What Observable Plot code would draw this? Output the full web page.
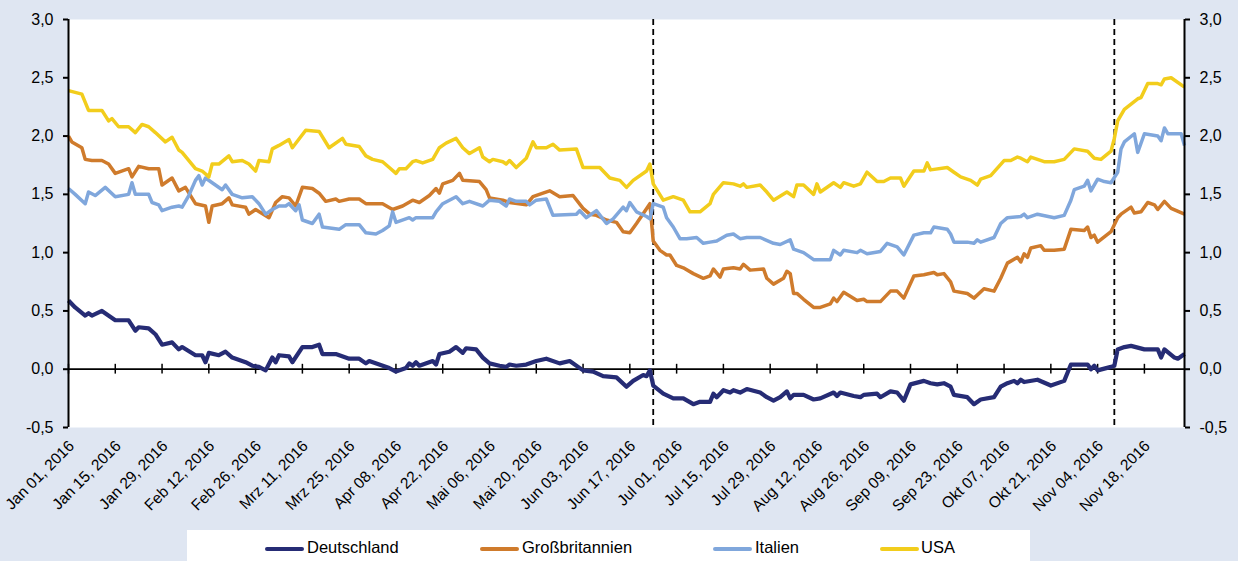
<!DOCTYPE html>
<html>
<head>
<meta charset="utf-8">
<script src="https://cdn.jsdelivr.net/npm/d3@7"></script>
<script src="https://cdn.jsdelivr.net/npm/@observablehq/plot@0.6"></script>
<style>
  html, body { margin: 0; padding: 0; background: #dfe6f2; width: 1238px; height: 561px; overflow: hidden; }
  body { font-family: "Liberation Sans", Arial, sans-serif; position: relative; }
  #chart { position: absolute; left: 0; top: 0; }
  #legend { position: absolute; left: 187px; top: 530px; width: 843px; height: 40px; background: #ffffff; }
  .sw { position: absolute; top: 17px; width: 39px; height: 4px; border-radius: 2px; }
  .lb { position: absolute; top: 8px; font-size: 16.5px; color: #000; white-space: nowrap; line-height: 19px; }
</style>
</head>
<body>
<div id="chart"></div>
<div id="legend"></div>
<script>
// ---- data (day offset from 2016-01-01, value in %) ----
const seriesNames = ["Deutschland", "Großbritannien", "Italien", "USA"];
const seriesColors = ["#262c75", "#cf7b2c", "#80a7dc", "#f2cd1c"];

const deutschland = [[0,0.59],[2,0.53],[5,0.46],[6,0.48],[7,0.46],[10,0.50],[14,0.42],[18,0.42],[20,0.33],[21,0.36],[24,0.35],[26,0.30],[28,0.21],[31,0.23],[33,0.17],[34,0.19],[38,0.12],[40,0.12],[41,0.06],[42,0.14],[45,0.12],[47,0.15],[49,0.10],[53,0.06],[55,0.03],[57,0.02],[59,-0.01],[61,0.10],[62,0.06],[63,0.12],[66,0.11],[67,0.06],[70,0.19],[73,0.19],[75,0.21],[76,0.13],[80,0.13],[84,0.09],[87,0.09],[89,0.05],[90,0.07],[93,0.04],[96,0.01],[98,-0.02],[101,0.01],[102,0.05],[103,0.03],[104,0.06],[105,0.03],[109,0.07],[110,0.04],[111,0.13],[114,0.15],[116,0.19],[118,0.14],[119,0.18],[122,0.17],[124,0.10],[126,0.05],[129,0.03],[131,0.02],[132,0.04],[134,0.03],[137,0.04],[140,0.07],[143,0.09],[147,0.05],[150,0.07],[154,-0.01],[157,-0.02],[160,-0.06],[164,-0.07],[167,-0.15],[169,-0.10],[172,-0.05],[173,-0.06],[174,-0.01],[175,-0.14],[178,-0.21],[181,-0.25],[184,-0.25],[187,-0.30],[189,-0.28],[192,-0.28],[193,-0.21],[194,-0.24],[196,-0.18],[198,-0.20],[199,-0.18],[201,-0.20],[203,-0.17],[207,-0.20],[209,-0.24],[211,-0.27],[213,-0.24],[215,-0.19],[216,-0.25],[217,-0.22],[220,-0.22],[223,-0.26],[225,-0.25],[229,-0.20],[230,-0.23],[231,-0.20],[235,-0.23],[237,-0.24],[238,-0.22],[242,-0.21],[243,-0.24],[246,-0.19],[248,-0.20],[250,-0.27],[252,-0.13],[256,-0.10],[258,-0.12],[260,-0.13],[262,-0.12],[264,-0.15],[265,-0.22],[269,-0.24],[271,-0.30],[273,-0.26],[277,-0.24],[279,-0.15],[281,-0.12],[283,-0.10],[284,-0.12],[285,-0.09],[286,-0.11],[290,-0.09],[294,-0.14],[298,-0.10],[300,0.04],[305,0.04],[306,0.00],[307,0.03],[308,-0.01],[312,0.02],[313,0.03],[314,0.17],[316,0.19],[318,0.20],[322,0.17],[326,0.17],[327,0.10],[328,0.17],[331,0.10],[332,0.09],[334,0.13]];

const grossbritannien = [[0,2.00],[1,1.95],[4,1.90],[5,1.80],[7,1.79],[10,1.79],[12,1.76],[14,1.68],[18,1.72],[19,1.65],[21,1.74],[24,1.72],[27,1.72],[28,1.58],[31,1.64],[33,1.53],[35,1.56],[38,1.42],[41,1.40],[42,1.26],[43,1.40],[46,1.42],[48,1.47],[49,1.41],[53,1.39],[54,1.33],[56,1.37],[60,1.30],[62,1.43],[64,1.48],[66,1.47],[68,1.40],[70,1.56],[73,1.55],[75,1.51],[77,1.44],[80,1.46],[81,1.44],[84,1.46],[87,1.46],[89,1.42],[94,1.42],[97,1.37],[100,1.40],[103,1.45],[105,1.43],[108,1.49],[110,1.55],[111,1.51],[112,1.59],[115,1.62],[117,1.68],[118,1.62],[123,1.61],[125,1.54],[126,1.47],[130,1.45],[132,1.43],[137,1.41],[139,1.48],[142,1.51],[144,1.53],[147,1.48],[151,1.49],[154,1.38],[156,1.33],[158,1.32],[161,1.28],[164,1.26],[166,1.18],[168,1.17],[170,1.25],[174,1.42],[175,1.10],[177,1.02],[179,0.98],[180,0.98],[182,0.89],[184,0.87],[187,0.82],[190,0.78],[192,0.80],[193,0.86],[195,0.79],[196,0.86],[199,0.87],[201,0.86],[202,0.90],[204,0.85],[208,0.86],[209,0.78],[211,0.73],[214,0.78],[215,0.84],[216,0.82],[217,0.65],[218,0.65],[220,0.60],[223,0.53],[225,0.53],[228,0.56],[229,0.61],[230,0.58],[232,0.66],[236,0.59],[238,0.60],[239,0.58],[243,0.58],[246,0.67],[248,0.67],[250,0.61],[253,0.80],[256,0.81],[259,0.83],[260,0.81],[262,0.82],[264,0.75],[265,0.67],[269,0.65],[271,0.61],[274,0.69],[277,0.67],[279,0.78],[281,0.91],[284,0.96],[285,0.92],[286,0.99],[287,0.96],[288,1.04],[291,1.06],[292,1.02],[295,1.02],[298,1.03],[300,1.20],[304,1.19],[305,1.22],[306,1.13],[307,1.15],[308,1.09],[312,1.18],[314,1.30],[315,1.33],[318,1.39],[319,1.34],[321,1.35],[323,1.43],[325,1.41],[326,1.37],[328,1.44],[330,1.38],[334,1.33]];

const italien = [[0,1.55],[2,1.50],[5,1.42],[6,1.52],[8,1.49],[11,1.56],[14,1.48],[18,1.50],[19,1.60],[20,1.50],[24,1.50],[25,1.43],[27,1.41],[28,1.36],[31,1.39],[33,1.40],[34,1.39],[36,1.49],[38,1.62],[39,1.66],[40,1.58],[41,1.64],[43,1.60],[46,1.54],[47,1.58],[49,1.50],[52,1.47],[55,1.48],[57,1.42],[59,1.33],[61,1.37],[63,1.40],[65,1.40],[66,1.42],[68,1.36],[69,1.41],[70,1.28],[73,1.25],[75,1.33],[76,1.22],[81,1.20],[83,1.24],[87,1.24],[89,1.17],[92,1.16],[94,1.19],[96,1.23],[97,1.35],[98,1.26],[102,1.30],[103,1.28],[104,1.30],[109,1.30],[110,1.35],[112,1.42],[116,1.48],[118,1.42],[120,1.44],[124,1.40],[126,1.45],[129,1.44],[131,1.40],[132,1.46],[134,1.44],[137,1.44],[138,1.41],[140,1.45],[143,1.46],[145,1.32],[152,1.33],[153,1.36],[155,1.30],[158,1.36],[161,1.25],[163,1.29],[166,1.39],[167,1.36],[168,1.43],[170,1.35],[173,1.31],[174,1.29],[175,1.42],[178,1.39],[179,1.30],[181,1.22],[183,1.12],[185,1.12],[188,1.13],[190,1.08],[192,1.09],[194,1.10],[197,1.15],[199,1.16],[201,1.12],[203,1.13],[207,1.13],[211,1.08],[213,1.07],[216,1.11],[217,1.03],[220,1.00],[223,0.94],[228,0.94],[229,1.02],[231,0.98],[232,1.02],[236,1.00],[237,1.02],[239,0.99],[243,1.01],[245,1.08],[248,1.05],[250,0.98],[253,1.15],[256,1.17],[258,1.17],[259,1.22],[263,1.20],[264,1.16],[265,1.09],[269,1.09],[271,1.08],[272,1.11],[273,1.09],[277,1.13],[279,1.25],[281,1.30],[285,1.31],[286,1.33],[287,1.30],[290,1.33],[295,1.30],[298,1.32],[300,1.45],[301,1.54],[304,1.57],[305,1.62],[306,1.53],[308,1.63],[310,1.61],[312,1.60],[314,1.69],[315,1.89],[316,1.95],[319,2.02],[320,1.86],[322,2.02],[326,2.00],[327,1.96],[328,2.07],[329,2.02],[333,2.02],[334,1.92]];

const usa = [[0,2.39],[4,2.36],[6,2.22],[10,2.22],[12,2.13],[13,2.15],[15,2.08],[18,2.08],[20,2.03],[22,2.10],[24,2.08],[26,2.03],[29,1.95],[31,1.99],[33,1.88],[34,1.86],[38,1.72],[40,1.70],[42,1.65],[43,1.76],[45,1.76],[48,1.83],[49,1.78],[52,1.79],[54,1.76],[56,1.70],[57,1.79],[60,1.78],[61,1.89],[63,1.92],[66,1.97],[67,1.90],[71,2.05],[75,2.04],[78,1.90],[82,1.98],[83,1.93],[87,1.91],[89,1.83],[91,1.80],[94,1.78],[96,1.73],[98,1.68],[99,1.72],[101,1.72],[103,1.78],[104,1.79],[106,1.77],[109,1.80],[111,1.90],[113,1.94],[116,1.98],[118,1.90],[120,1.85],[123,1.90],[124,1.82],[126,1.78],[127,1.80],[130,1.78],[131,1.76],[132,1.79],[134,1.73],[137,1.81],[139,1.95],[140,1.90],[143,1.90],[145,1.93],[147,1.88],[152,1.89],[154,1.73],[159,1.73],[162,1.64],[165,1.62],[167,1.56],[169,1.62],[173,1.70],[174,1.76],[175,1.59],[178,1.45],[181,1.48],[184,1.45],[186,1.35],[189,1.35],[192,1.42],[193,1.50],[196,1.60],[199,1.59],[201,1.57],[202,1.59],[203,1.56],[207,1.58],[209,1.52],[211,1.45],[215,1.52],[217,1.48],[218,1.58],[220,1.58],[223,1.50],[224,1.59],[225,1.52],[229,1.60],[231,1.56],[232,1.60],[235,1.57],[237,1.59],[239,1.69],[242,1.61],[244,1.61],[246,1.64],[249,1.64],[250,1.57],[253,1.70],[256,1.70],[257,1.77],[258,1.71],[263,1.73],[265,1.69],[267,1.65],[270,1.62],[272,1.58],[273,1.63],[276,1.66],[280,1.79],[282,1.79],[284,1.82],[285,1.81],[287,1.78],[288,1.82],[292,1.78],[295,1.78],[298,1.80],[301,1.89],[305,1.87],[307,1.81],[309,1.80],[312,1.87],[313,1.98],[314,2.13],[316,2.23],[320,2.32],[321,2.33],[323,2.45],[326,2.45],[327,2.44],[328,2.49],[330,2.50],[334,2.42]];

const tickDays = [0,14,28,42,56,70,84,98,112,126,140,154,168,182,196,210,224,238,252,266,280,294,308,322];
const tickLabels = ["Jan 01, 2016","Jan 15, 2016","Jan 29, 2016","Feb 12, 2016","Feb 26, 2016","Mrz 11, 2016","Mrz 25, 2016","Apr 08, 2016","Apr 22, 2016","Mai 06, 2016","Mai 20, 2016","Jun 03, 2016","Jun 17, 2016","Jul 01, 2016","Jul 15, 2016","Jul 29, 2016","Aug 12, 2016","Aug 26, 2016","Sep 09, 2016","Sep 23, 2016","Okt 07, 2016","Okt 21, 2016","Nov 04, 2016","Nov 18, 2016"];
const yTicks = [-0.5, 0, 0.5, 1.0, 1.5, 2.0, 2.5, 3.0];
const eventDays = [175, 313]; // Brexit-Referendum, US-Wahl
const domainDays = [0, 334];

// ---- build ----
const start = new Date(Date.UTC(2016, 0, 1));
const toDate = d => d3.utcDay.offset(start, d);
const allSeries = [deutschland, grossbritannien, italien, usa];
const rows = allSeries.flatMap((s, k) => s.map(([d, v]) => ({date: toDate(d), value: v, name: seriesNames[k]})));
const ticks = tickDays.map((d, i) => ({date: toDate(d), label: tickLabels[i]}));
const xDomain = domainDays.map(toDate);
const fmt = v => v.toFixed(1).replace(".", ",");
const widths = {"Deutschland": 4.2, "Großbritannien": 3.5, "Italien": 3.5, "USA": 3.5};

const chart = Plot.plot({
  width: 1238,
  height: 528,
  marginLeft: 68,
  marginRight: 54,
  marginTop: 19,
  marginBottom: 101,
  style: {background: "transparent", fontFamily: "'Liberation Sans', Arial, sans-serif", fontSize: "16px", color: "#000"},
  x: {type: "utc", domain: xDomain, label: null, axis: null},
  y: {domain: [-0.5, 3.0], label: null},
  color: {domain: seriesNames, range: seriesColors},
  marks: [
    Plot.frame({fill: "white", stroke: null}),
    Plot.axisY({anchor: "left", ticks: yTicks, tickFormat: fmt, tickSize: 5, tickPadding: 10, strokeWidth: 2, fontSize: 16, label: null}),
    Plot.axisY({anchor: "right", ticks: yTicks, tickFormat: fmt, tickSize: 5, tickPadding: 10, strokeWidth: 2, fontSize: 16, label: null}),
    Plot.ruleY([0], {stroke: "black", strokeWidth: 1.8}),
    Plot.ruleX(ticks, {x: "date", y1: -0.042, y2: 0.042, stroke: "black", strokeWidth: 1.5}),
    Plot.ruleX(eventDays.map(toDate), {stroke: "black", strokeWidth: 1.8, strokeDasharray: "6,4"}),
    ...seriesNames.map(n => Plot.line(rows.filter(r => r.name === n), {x: "date", y: "value", stroke: "name", strokeWidth: widths[n], strokeLinejoin: "round", strokeLinecap: "butt"})),
    Plot.ruleX(xDomain, {y1: -0.5, y2: 3.0, stroke: "black", strokeWidth: 2}),
    Plot.text(ticks, {x: "date", frameAnchor: "bottom", text: "label", rotate: -45, textAnchor: "end", lineAnchor: "middle", dx: 3, dy: 16, fontSize: 15.5, fill: "black"})
  ]
});
document.getElementById("chart").appendChild(chart);

// ---- legend ----
const legendPos = [[78, 120], [293, 335], [526, 568], [693, 734]]; // swatch left, label left (relative to box)
const legend = document.getElementById("legend");
seriesNames.forEach((n, i) => {
  const sw = document.createElement("div");
  sw.className = "sw";
  sw.style.left = legendPos[i][0] + "px";
  sw.style.background = seriesColors[i];
  legend.appendChild(sw);
  const lb = document.createElement("div");
  lb.className = "lb";
  lb.style.left = legendPos[i][1] + "px";
  lb.textContent = n;
  legend.appendChild(lb);
});
</script>
</body>
</html>
